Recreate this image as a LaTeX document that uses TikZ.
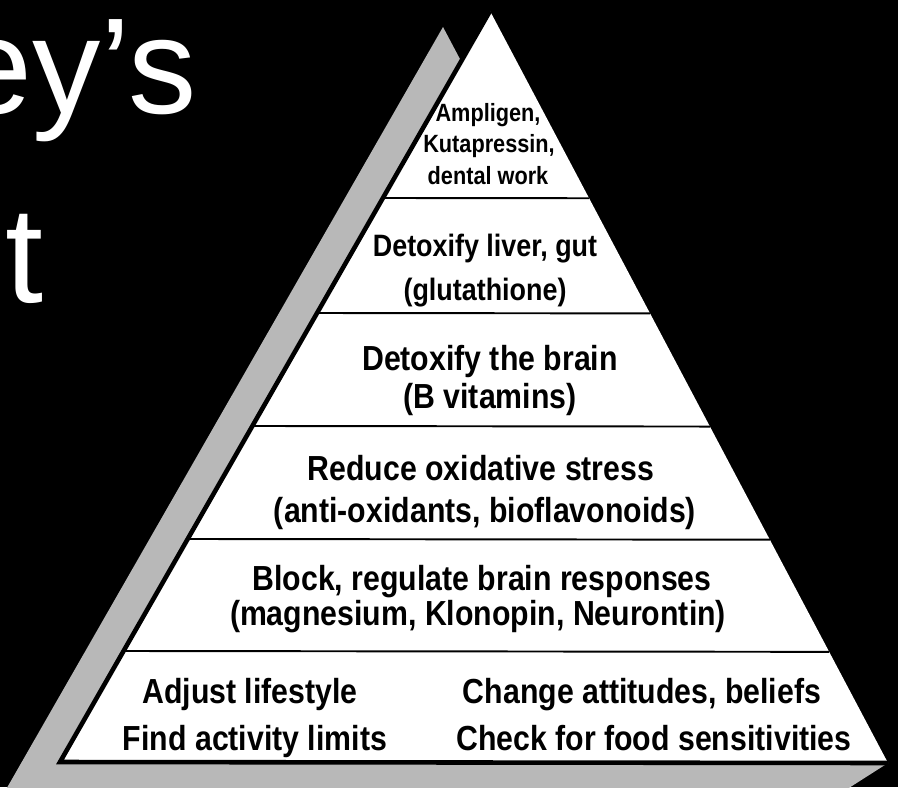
\documentclass[tikz,border=0pt]{standalone}
\usepackage{fontspec}
\usetikzlibrary{calc}
\newfontfamily\tierfont{Liberation Sans}[FakeStretch=0.87]
\newfontfamily\titlefont{Liberation Sans}
\tikzset{
    tier/.style={anchor=base, inner sep=0pt, text=black},
    tiersmall/.style={tier, font=\tierfont\bfseries\fontsize{14.2}{16}\selectfont},
    tiermid/.style={tier, font=\tierfont\bfseries\fontsize{17.6}{20}\selectfont},
    tierbig/.style={tier, font=\tierfont\bfseries\fontsize{19.8}{22}\selectfont},
    titletext/.style={inner sep=0pt, text=white, font=\titlefont\fontsize{77.7}{80}\selectfont},
    shadowfill/.style={fill=black!28},
    divider/.style={line width=1.1pt}
}
\begin{document}
\begin{tikzpicture}[x=0.02cm, y=-0.02cm]
    \useasboundingbox (0,0) rectangle (898,787);
    \clip (0,0) rectangle (898,787);
    \fill[black] (0,0) rectangle (898,787);
    \node[titletext, anchor=base east] (ttlA) at (197,114) {ey’s};
    \node[titletext, anchor=base west] (ttlB) at (5,302) {t};
    \fill[shadowfill] (443,27) -- (0,800) -- (830,800) -- (888,763) -- (461,61) -- cycle;
    \coordinate (apex) at (490,11);
    \coordinate (bl) at (60,762);
    \coordinate (br) at (888,763);
    \fill[white] (apex) -- (bl) -- (br) -- cycle;
    \draw[line width=2.6pt, line join=miter] (apex) -- (bl) -- (br);
    \foreach \y in {198,313,426,539,651}
    {
        \pgfmathsetmacro\f{(\y-11)/751}
        \draw[divider] ($(apex)!\f!(bl)$) -- ($(apex)!\f!(br)$);
    }
    \node[tiersmall] (amp) at (488,122) {Ampligen,};
    \node[tiersmall] (kuta) at (489,153) {Kutapressin,};
    \node[tiersmall] (dent) at (488,185) {dental work};
    \node[tiermid] (liver) at (485,256) {Detoxify liver, gut};
    \node[tiermid] (gluta) at (485,300) {(glutathione)};
    \node[tierbig] (brain) at (490,370) {Detoxify the brain};
    \node[tierbig] (bvit) at (490,408) {(B vitamins)};
    \node[tierbig] (oxid) at (481,480) {Reduce oxidative stress};
    \node[tierbig] (anti) at (485,522) {(anti-oxidants, bioflavonoids)};
    \node[tierbig] (block) at (482,590) {Block, regulate brain responses};
    \node[tierbig] (magn) at (478,625) {(magnesium, Klonopin, Neurontin)};
    \node[tierbig] (adjust) at (250,703) {Adjust lifestyle};
    \node[tierbig] (activ) at (255,750) {Find activity limits};
    \node[tierbig] (attit) at (642,703) {Change attitudes, beliefs};
    \node[tierbig] (food) at (654,750) {Check for food sensitivities};
\end{tikzpicture}
\end{document}
